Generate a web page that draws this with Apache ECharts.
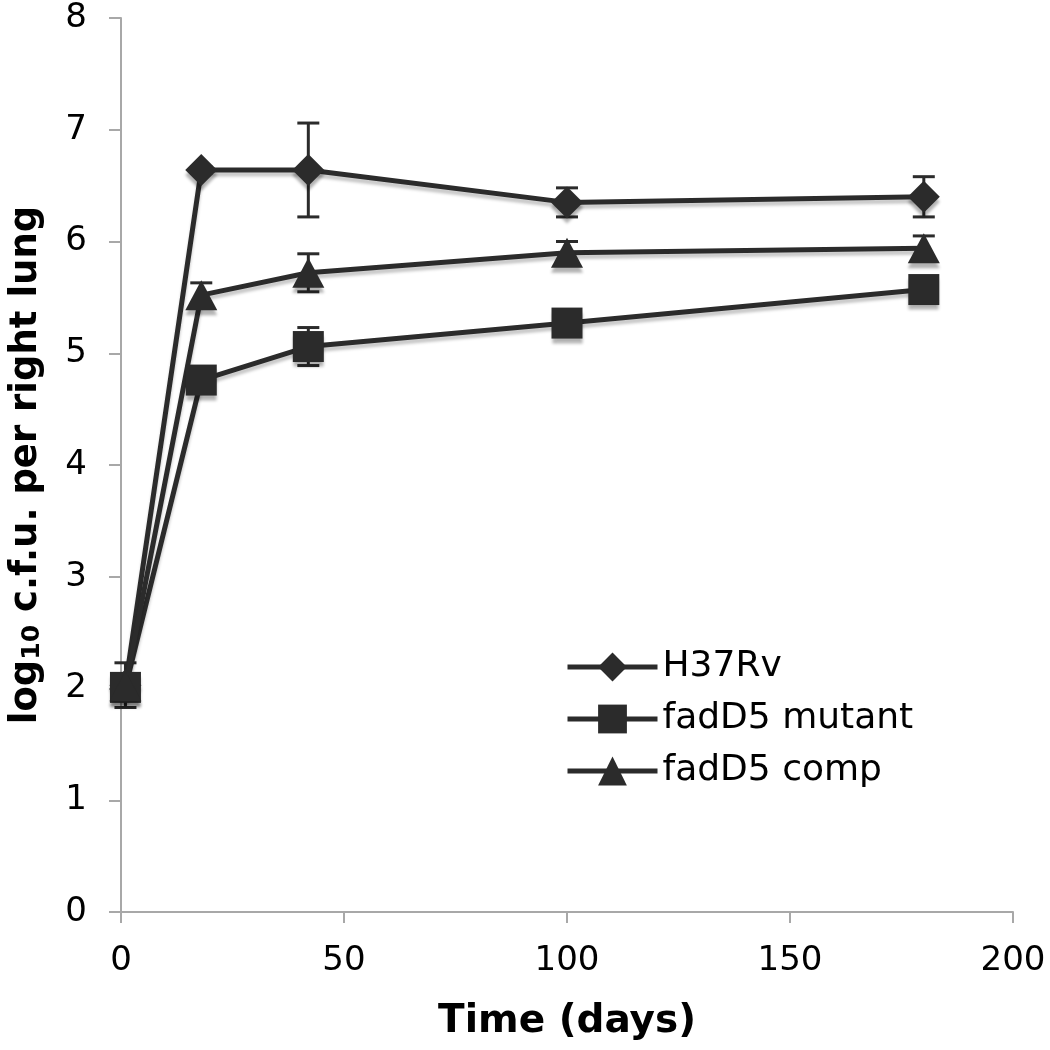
<!DOCTYPE html>
<html>
<head>
<meta charset="utf-8">
<script src="https://cdn.jsdelivr.net/npm/echarts@6/dist/echarts.min.js"></script>
<style>html,body{margin:0;padding:0;background:#fff}#c{width:1050px;height:1050px}</style>
</head>
<body>
<div id="c"></div>
<script>
const days = [1, 18, 42, 100, 180];
const h37rv = [2.03, 6.64, 6.64, 6.35, 6.40];
const h37rvErr = [0.2, 0.03, 0.42, 0.13, 0.18];
const mutant = [2.01, 4.76, 5.06, 5.27, 5.57];
const mutantErr = [0.1, 0.05, 0.17, 0.05, 0.05];
const comp = [2.02, 5.52, 5.72, 5.90, 5.94];
const compErr = [0.1, 0.11, 0.17, 0.10, 0.11];
const seriesNames = ['H37Rv', 'fadD5 mutant', 'fadD5 comp'];
const xTicks = [0, 50, 100, 150, 200];
const yTicks = [0, 1, 2, 3, 4, 5, 6, 7, 8];

const dark = '#2b2b2b';
const font = 'DejaVu Sans';

function pairs(vals) { return days.map((d, i) => [d, vals[i]]); }
function errData(vals, errs) { return days.map((d, i) => [d, vals[i], errs[i]]); }

function errSeries(vals, errs) {
  return {
    type: 'custom',
    z: 1,
    silent: true,
    data: errData(vals, errs),
    renderItem: function (params, api) {
      const x = api.value(0), v = api.value(1), e = api.value(2);
      const top = api.coord([x, v + e]);
      const bot = api.coord([x, v - e]);
      const hw = 11;
      const st = { stroke: dark, lineWidth: 3 };
      return {
        type: 'group',
        children: [
          { type: 'line', shape: { x1: top[0], y1: top[1], x2: bot[0], y2: bot[1] }, style: st },
          { type: 'line', shape: { x1: top[0] - hw, y1: top[1], x2: top[0] + hw, y2: top[1] }, style: st },
          { type: 'line', shape: { x1: bot[0] - hw, y1: bot[1], x2: bot[0] + hw, y2: bot[1] }, style: st }
        ]
      };
    }
  };
}

function lineSeries(name, vals, symbol, size) {
  return {
    name: name,
    type: 'line',
    z: 3,
    data: pairs(vals),
    symbol: symbol,
    symbolSize: size,
    showAllSymbol: true,
    lineStyle: { color: dark, width: 5, shadowColor: 'rgba(0,0,0,0.22)', shadowOffsetY: 4, shadowBlur: 3 },
    itemStyle: { color: dark, borderWidth: 0, shadowColor: 'rgba(0,0,0,0.3)', shadowOffsetY: 5, shadowBlur: 3 },
    emphasis: { disabled: true }
  };
}

const diamondPath = 'path://M0,10 L10,0 L20,10 L10,20 Z';

const chart = echarts.init(document.getElementById('c'), null, { renderer: 'canvas' });
chart.setOption({
  animation: false,
  backgroundColor: '#fff',
  textStyle: { fontFamily: font, color: '#000' },
  grid: { left: 117, right: 37, top: 18, bottom: 138, containLabel: false },
  legend: {
    orient: 'vertical',
    left: 560,
    top: 644,
    itemWidth: 90,
    itemHeight: 36,
    itemGap: 16,
    data: seriesNames,
    lineStyle: { width: 5, color: dark },
    itemStyle: { color: dark, shadowBlur: 0, shadowOffsetY: 0 },
    textStyle: { fontFamily: font, fontSize: 36, lineHeight: 36, color: '#000', padding: [0, 0, 0, 0] },
    selectedMode: false
  },
  xAxis: {
    type: 'value',
    min: 0, max: 200, interval: 50,
    name: 'Time (days)',
    nameLocation: 'middle',
    nameGap: 90,
    nameTextStyle: { fontFamily: font, fontSize: 39, fontWeight: 'bold', color: '#000' },
    axisLine: { show: true, lineStyle: { color: '#a8a8a8', width: 2 } },
    axisTick: { show: true, length: 11, lineStyle: { color: '#a8a8a8', width: 2 } },
    axisLabel: { fontFamily: font, fontSize: 34, color: '#000', margin: 32 },
    splitLine: { show: false }
  },
  yAxis: {
    type: 'value',
    min: 0, max: 8, interval: 1,
    name: '{a|log}{b|10}{a| c.f.u. per right lung}',
    nameLocation: 'middle',
    nameRotate: 90,
    nameGap: 76,
    nameTextStyle: {
      rich: {
        a: { fontFamily: font, fontSize: 37, fontWeight: 'bold', color: '#000' },
        b: { fontFamily: font, fontSize: 25, fontWeight: 'bold', color: '#000', padding: [12, 0, 0, 0] }
      }
    },
    axisLine: { show: true, lineStyle: { color: '#a8a8a8', width: 2 } },
    axisTick: { show: true, length: 12, lineStyle: { color: '#a8a8a8', width: 2 } },
    axisLabel: { fontFamily: font, fontSize: 34, color: '#000', margin: 34 },
    splitLine: { show: false }
  },
  series: [
    errSeries(h37rv, h37rvErr),
    errSeries(mutant, mutantErr),
    errSeries(comp, compErr),
    lineSeries(seriesNames[0], h37rv, diamondPath, [32, 32]),
    lineSeries(seriesNames[1], mutant, 'rect', [31, 31]),
    lineSeries(seriesNames[2], comp, 'triangle', [32, 30])
  ]
});
</script>
</body>
</html>
